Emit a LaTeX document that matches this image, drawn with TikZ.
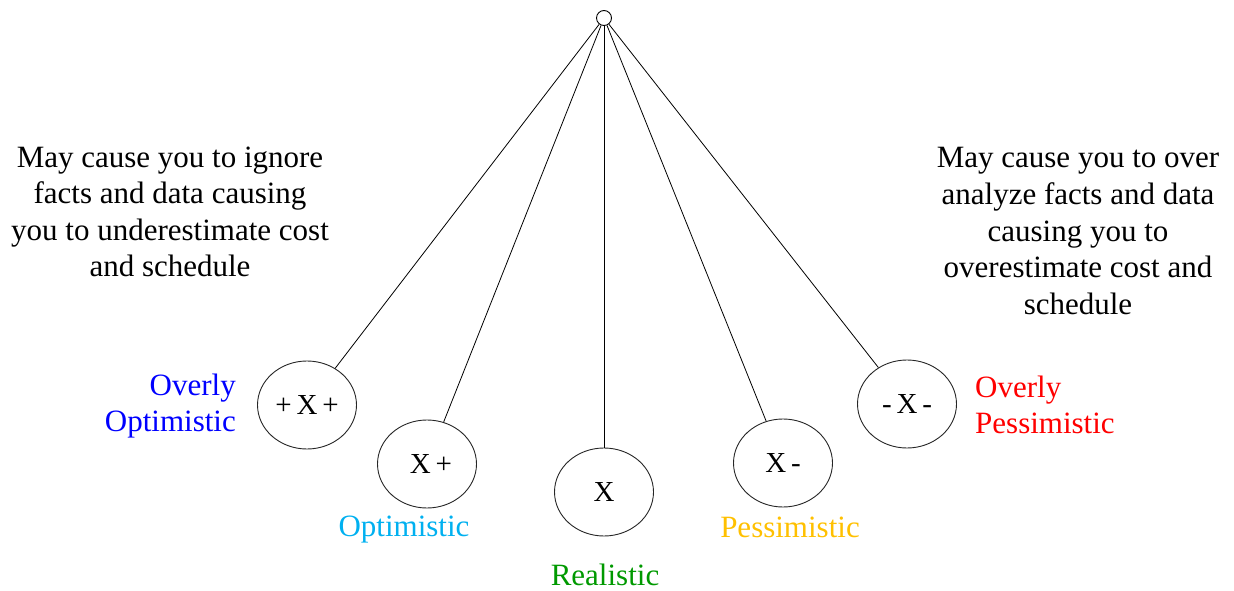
\documentclass[tikz,border=0pt]{standalone}
\usepackage{fontspec}
\setmainfont{Liberation Serif}
\usetikzlibrary{shapes.geometric}
\definecolor{ovopt}{RGB}{0,0,255}
\definecolor{opt}{RGB}{0,176,240}
\definecolor{real}{RGB}{0,153,0}
\definecolor{pess}{RGB}{255,192,0}
\definecolor{ovpess}{RGB}{255,0,0}
\begin{document}
\begin{tikzpicture}[x=1pt,y=-1pt,
  bob/.style={draw=black!85, line width=0.9pt, ellipse, minimum width=99pt, minimum height=88pt, inner sep=0pt, font=\fontsize{29}{30}\selectfont},
  rope/.style={draw=black, line width=0.8pt},
  big/.style={font=\fontsize{31}{36.5}\selectfont, inner sep=0pt},
]
\useasboundingbox (0,0) rectangle (1234,591);
\node[circle, draw=black, line width=0.9pt, minimum size=15pt, inner sep=0pt, fill=white] (piv) at (604,18) {};
\node[bob] (e1) at (307,405) {+\,X\,+};
\node[bob] (e2) at (427,464) {\;X\,+};
\node[bob] (e3) at (604,492) {X};
\node[bob] (e4) at (783,463) {X\,-};
\node[bob] (e5) at (907,404) {-\,X\,-};
\foreach \e in {e1,e2,e3,e4,e5} \draw[rope] (piv) -- (\e);
\node[big, align=center] (lt) at (170,212) {May cause you to ignore\\facts and data causing\\you to underestimate cost\\and schedule};
\node[big, align=center] (rt) at (1078,231) {May cause you to over\\analyze facts and data\\causing you to\\overestimate cost and\\schedule};
\node[big, align=right, anchor=east, text=ovopt] (l1) at (236,406) {Overly\\Optimistic};
\node[big, text=opt] (l2) at (404,530) {Optimistic};
\node[big, text=real] (l3) at (605,575) {Realistic};
\node[big, text=pess] (l4) at (790,527) {Pessimistic};
\node[big, align=left, anchor=west, text=ovpess] (l5) at (975,405) {Overly\\Pessimistic};
\end{tikzpicture}
\end{document}
